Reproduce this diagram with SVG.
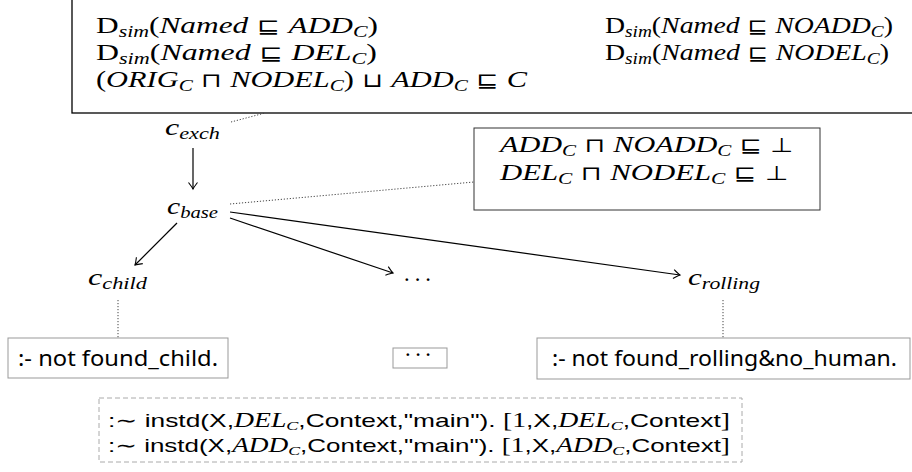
<svg xmlns="http://www.w3.org/2000/svg" width="912" height="472" viewBox="0 0 912 472">
<defs>
<style>
.m{font-family:"Liberation Serif","DejaVu Serif",serif;font-size:23px;fill:#000}
.i{font-style:italic}
.sb{font-size:16px;font-style:italic}
.sy{font-family:"DejaVu Sans",sans-serif;font-size:20px;font-style:normal}
.t{font-family:"Noto Sans","DejaVu Sans",sans-serif;font-size:22px;fill:#000}
.w{font-family:"Liberation Sans","DejaVu Sans",sans-serif;font-size:19px;fill:#000}
.wm{font-family:"Liberation Serif","DejaVu Serif",serif;font-size:20px}
.ws{font-family:"Liberation Serif","DejaVu Serif",serif;font-size:13px;font-style:italic}
.edge{stroke:#000;stroke-width:1.2;fill:none}
.dot{stroke:#444;stroke-width:1;fill:none;stroke-dasharray:1.2 1.8}
.nb{fill:#fff;stroke:#999;stroke-width:1}
</style>
<marker id="to" viewBox="-8 -6 10 12" refX="0" refY="0" markerWidth="10" markerHeight="12" markerUnits="userSpaceOnUse" orient="auto">
<path d="M-6.5,-4.5 Q-2,-1 0,0 Q-2,1 -6.5,4.5" fill="none" stroke="#000" stroke-width="1.1"/>
</marker>
</defs>
<rect width="912" height="472" fill="#fff"/>

<g id="top-box">
<rect x="72" y="-10" width="860" height="123" fill="#fff" stroke="#000" stroke-width="1.3"/>
<text class="m" x="96" y="33" textLength="282" lengthAdjust="spacingAndGlyphs">D<tspan class="sb" dy="4">sim</tspan><tspan dy="-4">(</tspan><tspan class="i">Named</tspan><tspan class="sy"> ⊑ </tspan><tspan class="i">ADD</tspan><tspan class="sb" dy="4">C</tspan><tspan dy="-4">)</tspan></text>
<text class="m" x="96" y="60" textLength="281" lengthAdjust="spacingAndGlyphs">D<tspan class="sb" dy="4">sim</tspan><tspan dy="-4">(</tspan><tspan class="i">Named</tspan><tspan class="sy"> ⊑ </tspan><tspan class="i">DEL</tspan><tspan class="sb" dy="4">C</tspan><tspan dy="-4">)</tspan></text>
<text class="m" x="96" y="87" textLength="431" lengthAdjust="spacingAndGlyphs">(<tspan class="i">ORIG</tspan><tspan class="sb" dy="4">C</tspan><tspan class="sy" dy="-4"> ⊓ </tspan><tspan class="i">NODEL</tspan><tspan class="sb" dy="4">C</tspan><tspan dy="-4">)</tspan><tspan class="sy"> ⊔ </tspan><tspan class="i">ADD</tspan><tspan class="sb" dy="4">C</tspan><tspan class="sy" dy="-4"> ⊑ </tspan><tspan class="i">C</tspan></text>
<text class="m" x="605" y="33" textLength="288" lengthAdjust="spacingAndGlyphs">D<tspan class="sb" dy="4">sim</tspan><tspan dy="-4">(</tspan><tspan class="i">Named</tspan><tspan class="sy"> ⊑ </tspan><tspan class="i">NOADD</tspan><tspan class="sb" dy="4">C</tspan><tspan dy="-4">)</tspan></text>
<text class="m" x="605" y="60" textLength="284" lengthAdjust="spacingAndGlyphs">D<tspan class="sb" dy="4">sim</tspan><tspan dy="-4">(</tspan><tspan class="i">Named</tspan><tspan class="sy"> ⊑ </tspan><tspan class="i">NODEL</tspan><tspan class="sb" dy="4">C</tspan><tspan dy="-4">)</tspan></text>
</g>

<g id="disjoint-box">
<rect x="474" y="128" width="346" height="82" fill="#fff" stroke="#333" stroke-width="1"/>
<text class="m" x="500" y="152" textLength="293" lengthAdjust="spacingAndGlyphs"><tspan class="i">ADD</tspan><tspan class="sb" dy="4">C</tspan><tspan class="sy" dy="-4"> ⊓ </tspan><tspan class="i">NOADD</tspan><tspan class="sb" dy="4">C</tspan><tspan class="sy" dy="-4"> ⊑ ⊥</tspan></text>
<text class="m" x="500" y="180" textLength="288" lengthAdjust="spacingAndGlyphs"><tspan class="i">DEL</tspan><tspan class="sb" dy="4">C</tspan><tspan class="sy" dy="-4"> ⊓ </tspan><tspan class="i">NODEL</tspan><tspan class="sb" dy="4">C</tspan><tspan class="sy" dy="-4"> ⊑ ⊥</tspan></text>
</g>

<g id="c-exch"><text class="m i" x="165" y="135" textLength="55" lengthAdjust="spacingAndGlyphs">c<tspan class="sb" dy="4">exch</tspan></text></g>
<g id="c-base"><text class="m i" x="167" y="214" textLength="51" lengthAdjust="spacingAndGlyphs">c<tspan class="sb" dy="4">base</tspan></text></g>
<g id="c-child"><text class="m i" x="88" y="285" textLength="59" lengthAdjust="spacingAndGlyphs">c<tspan class="sb" dy="4">child</tspan></text></g>
<g id="c-dots"><text class="m" x="403" y="287" textLength="29">· · ·</text></g>
<g id="c-rolling"><text class="m i" x="688" y="285" textLength="72" lengthAdjust="spacingAndGlyphs">c<tspan class="sb" dy="4">rolling</tspan></text></g>

<g id="box-child">
<rect class="nb" x="8" y="338" width="220" height="40"/>
<text class="t" x="18" y="366" textLength="200" lengthAdjust="spacingAndGlyphs">:- not found_child.</text>
</g>
<g id="box-dots">
<rect class="nb" x="393" y="348" width="54" height="20"/>
<text class="m" x="404" y="362" font-size="14" textLength="28">· · ·</text>
</g>
<g id="box-rolling">
<rect class="nb" x="537" y="338" width="373" height="41"/>
<text class="t" x="552" y="366" textLength="345" lengthAdjust="spacingAndGlyphs">:- not found_rolling&amp;no_human.</text>
</g>

<g id="weak-box">
<rect x="99" y="398" width="643" height="64" fill="#fff" stroke="#aaa" stroke-width="1" stroke-dasharray="5 3"/>
<text class="w" x="108" y="427" textLength="622" lengthAdjust="spacingAndGlyphs">:∼ instd(X,<tspan class="wm i">DEL</tspan><tspan class="ws" dy="3">C</tspan><tspan dy="-3">,Context,"main"). </tspan><tspan class="wm">[1</tspan>,X,<tspan class="wm i">DEL</tspan><tspan class="ws" dy="3">C</tspan><tspan dy="-3">,Context</tspan><tspan class="wm">]</tspan></text>
<text class="w" x="108" y="452" textLength="622" lengthAdjust="spacingAndGlyphs">:∼ instd(X,<tspan class="wm i">ADD</tspan><tspan class="ws" dy="3">C</tspan><tspan dy="-3">,Context,"main"). </tspan><tspan class="wm">[1</tspan>,X,<tspan class="wm i">ADD</tspan><tspan class="ws" dy="3">C</tspan><tspan dy="-3">,Context</tspan><tspan class="wm">]</tspan></text>
</g>

<g id="connectors">
<line class="edge" x1="193" y1="148" x2="193" y2="189" marker-end="url(#to)"/>
<line class="edge" x1="177" y1="223" x2="135" y2="265" marker-end="url(#to)"/>
<line class="edge" x1="230" y1="218" x2="393" y2="273" marker-end="url(#to)"/>
<line class="edge" x1="230" y1="212" x2="680" y2="275" marker-end="url(#to)"/>
<line class="dot" x1="231" y1="122" x2="265" y2="113"/>
<line class="dot" x1="230" y1="204" x2="474" y2="182"/>
<line class="dot" x1="118" y1="300" x2="118" y2="338"/>
<line class="dot" x1="723" y1="300" x2="723" y2="338"/>
</g>
</svg>
